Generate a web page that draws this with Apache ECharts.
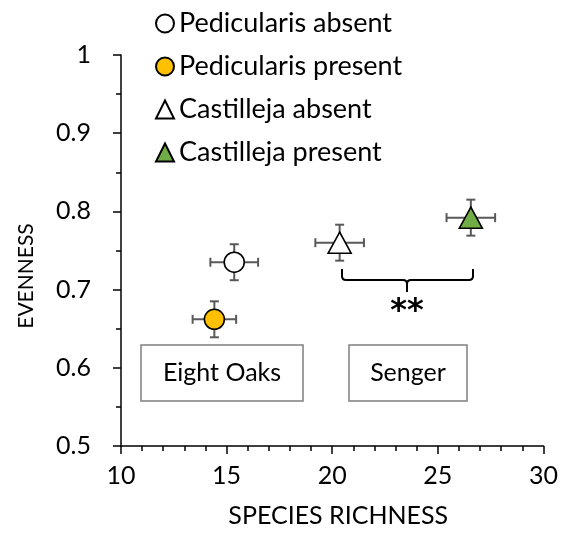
<!DOCTYPE html>
<html>
<head>
<meta charset="utf-8" />
<title>evenness vs richness</title>
<script src="https://cdn.jsdelivr.net/npm/echarts@6/dist/echarts.min.js"></script>
<style>
  html, body { margin: 0; padding: 0; background: #fff; }
  #chart { width: 561px; height: 533px; }
</style>
</head>
<body>
<div id="chart"></div>
<script>
// data
var groups   = ['Pedicularis absent', 'Pedicularis present', 'Castilleja absent', 'Castilleja present'];
var richness = [15.36, 14.42, 20.35, 26.56];
var evenness = [0.735, 0.662, 0.760, 0.792];
var richErr  = [1.13, 1.03, 1.15, 1.15];
var evenErr  = [0.023, 0.023, 0.023, 0.023];
var fills    = ['#ffffff', '#ffc000', '#ffffff', '#70ad47'];
var shapes   = ['circle', 'circle', 'triangle', 'triangle'];
var xTicks   = [10, 15, 20, 25, 30];
var yTicks   = [0.5, 0.6, 0.7, 0.8, 0.9, 1];

var FONT = 'Lato, "Open Sans", sans-serif';
var chart = echarts.init(document.getElementById('chart'));

var errData = groups.map(function (g, i) {
  return [richness[i], evenness[i], richErr[i], evenErr[i]];
});

function renderErr(params, api) {
  var x = api.value(0), y = api.value(1), ex = api.value(2), ey = api.value(3);
  var l = api.coord([x - ex, y]), r = api.coord([x + ex, y]);
  var t = api.coord([x, y + ey]), b = api.coord([x, y - ey]);
  var c = 4.5;
  var st = { stroke: '#595959', lineWidth: 2 };
  return {
    type: 'group',
    children: [
      { type: 'line', shape: { x1: l[0], y1: l[1], x2: r[0], y2: r[1] }, style: st },
      { type: 'line', shape: { x1: l[0], y1: l[1] - c, x2: l[0], y2: l[1] + c }, style: st },
      { type: 'line', shape: { x1: r[0], y1: r[1] - c, x2: r[0], y2: r[1] + c }, style: st },
      { type: 'line', shape: { x1: t[0], y1: t[1], x2: b[0], y2: b[1] }, style: st },
      { type: 'line', shape: { x1: t[0] - c, y1: t[1], x2: t[0] + c, y2: t[1] }, style: st },
      { type: 'line', shape: { x1: b[0] - c, y1: b[1], x2: b[0] + c, y2: b[1] }, style: st }
    ]
  };
}

var series = [{
  type: 'custom',
  name: 'err',
  renderItem: renderErr,
  data: errData,
  z: 1,
  silent: true
}];
groups.forEach(function (g, i) {
  series.push({
    type: 'scatter',
    name: g,
    symbol: shapes[i],
    symbolSize: shapes[i] === 'circle' ? 20 : [23, 21],
    itemStyle: { color: fills[i], borderColor: '#000', borderWidth: 1.6, opacity: 1 },
    data: [[richness[i], evenness[i]]],
    z: 3
  });
});

// curly bracket between the two Senger points
var bk = { stroke: '#000', lineWidth: 2, fill: null };
var bracket = [
  { type: 'polyline', shape: { points: [[342, 269], [342, 276]] }, style: bk },
  { type: 'bezierCurve', shape: { x1: 342, y1: 276, cpx1: 342, cpy1: 280, x2: 346, y2: 280 }, style: bk },
  { type: 'polyline', shape: { points: [[346, 280], [403, 280]] }, style: bk },
  { type: 'bezierCurve', shape: { x1: 403, y1: 280, cpx1: 407, cpy1: 280, x2: 407, y2: 284 }, style: bk },
  { type: 'bezierCurve', shape: { x1: 407, y1: 284, cpx1: 407, cpy1: 280, x2: 411, y2: 280 }, style: bk },
  { type: 'polyline', shape: { points: [[407, 284], [407, 292]] }, style: bk },
  { type: 'polyline', shape: { points: [[411, 280], [469, 280]] }, style: bk },
  { type: 'bezierCurve', shape: { x1: 469, y1: 280, cpx1: 473, cpy1: 280, x2: 473, y2: 276 }, style: bk },
  { type: 'polyline', shape: { points: [[473, 276], [473, 269]] }, style: bk }
];

var option = {
  animation: false,
  textStyle: { fontFamily: FONT },
  grid: { left: 121, right: 15, top: 55, bottom: 84 },
  legend: {
    data: groups.map(function (g, i) {
      return { name: g, icon: shapes[i] };
    }),
    orient: 'vertical',
    left: 150,
    top: 5,
    itemWidth: 18,
    itemHeight: 18,
    itemGap: 16,
    textStyle: { fontFamily: FONT, fontSize: 27, color: '#000', lineHeight: 27 }
  },
  xAxis: {
    type: 'value',
    min: xTicks[0],
    max: xTicks[xTicks.length - 1],
    interval: 5,
    name: 'SPECIES RICHNESS',
    nameLocation: 'middle',
    nameGap: 57,
    nameTextStyle: { fontSize: 25, color: '#000', fontFamily: FONT, padding: [0, 0, 0, 12] },
    axisLine: { onZero: false, lineStyle: { color: '#000', width: 1.5 } },
    axisTick: { show: true, length: 8, lineStyle: { color: '#000', width: 1.5 } },
    minorTick: { show: true, splitNumber: 5, length: 5, lineStyle: { color: '#000', width: 1.5 } },
    axisLabel: { fontSize: 25, color: '#000', margin: 17, fontFamily: FONT },
    splitLine: { show: false }
  },
  yAxis: {
    type: 'value',
    min: yTicks[0],
    max: yTicks[yTicks.length - 1],
    interval: 0.1,
    axisLine: { onZero: false, lineStyle: { color: '#000', width: 1.5 } },
    axisTick: { show: true, length: 8, lineStyle: { color: '#000', width: 1.5 } },
    minorTick: { show: true, splitNumber: 2, length: 5, lineStyle: { color: '#000', width: 1.5 } },
    axisLabel: { fontSize: 25, color: '#000', margin: 30, fontFamily: FONT },
    splitLine: { show: false }
  },
  graphic: [
    {
      type: 'text', x: 26, y: 276, rotation: Math.PI / 2,
      style: { text: 'EVENNESS', fontSize: 21, fontFamily: FONT, fill: '#000', align: 'center', verticalAlign: 'middle' }
    },
    {
      type: 'rect', shape: { x: 141, y: 345, width: 162, height: 56 },
      style: { fill: '#fff', stroke: '#7f7f7f', lineWidth: 1.5 }
    },
    {
      type: 'text', x: 222, y: 373,
      style: { text: 'Eight Oaks', fontSize: 25, fontFamily: FONT, fill: '#000', align: 'center', verticalAlign: 'middle' }
    },
    {
      type: 'rect', shape: { x: 349, y: 345, width: 118, height: 56 },
      style: { fill: '#fff', stroke: '#7f7f7f', lineWidth: 1.5 }
    },
    {
      type: 'text', x: 408, y: 373,
      style: { text: 'Senger', fontSize: 25, fontFamily: FONT, fill: '#000', align: 'center', verticalAlign: 'middle' }
    },
    { type: 'group', children: bracket },
    {
      type: 'text', x: 407, y: 312,
      style: { text: '**', fontSize: 32, fontWeight: 'bold', fontFamily: '"DejaVu Sans", sans-serif', fill: '#000', align: 'center', verticalAlign: 'middle' }
    }
  ],
  series: series
};

chart.setOption(option);
window.onresize = function () { chart.resize(); };
</script>
</body>
</html>
